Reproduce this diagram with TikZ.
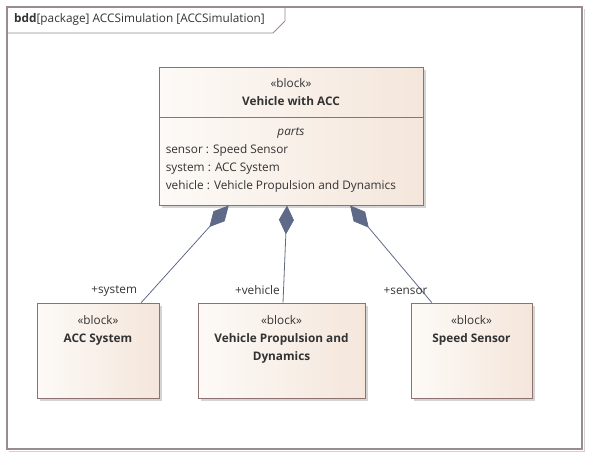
\documentclass[tikz,border=0pt]{standalone}
\usepackage{fontspec}
\setmainfont{Open Sans}
\usepackage{xcolor}
\usetikzlibrary{calc,positioning,arrows.meta,shadows}
\definecolor{blkFillL}{HTML}{FDFAF7}
\definecolor{blkFillR}{HTML}{F4E6DB}
\definecolor{blkLine}{HTML}{8E7272}
\definecolor{linkBlue}{HTML}{5F6A88}
\definecolor{txtGray}{HTML}{333333}
\definecolor{frameGray}{HTML}{9A8C8C}

\begin{document}
\begin{tikzpicture}[
  x=1pt, y=-1pt,
  font=\fontsize{11.8}{18}\selectfont, text=txtGray,
  blockbox/.style={draw=blkLine, line width=0.9pt, inner sep=0pt,
    left color=blkFillL, right color=blkFillR,
    drop shadow={shadow xshift=3pt, shadow yshift=-3pt, fill=black!17, opacity=1}},
  blocktext/.style={align=center, inner sep=0pt, anchor=north},
  rolelbl/.style={anchor=east, inner sep=0pt},
  comp/.style={draw=linkBlue, line width=0.8pt,
    arrows={Diamond[length=29pt,width=15pt,fill=linkBlue]-}}
]
\useasboundingbox (0,0) rectangle (590,456);

% Diagram frame with name tab
\draw[black!18, line width=1pt] (9,451) -- (584,451) -- (584,9);
\draw[frameGray, line width=1.2pt] (7,7) rectangle (582,449);
\draw[frameGray, line width=0.8pt] (7,33) -- (273,33) -- (285,21) -- (285,7);
\node[anchor=west, inner sep=0pt] (title) at (14,19)
  {\textbf{bdd}[package] ACCSimulation [ACCSimulation]};

% Owning block
\node[blockbox, minimum width=264pt, minimum height=138pt] (vacc) at (291,136) {};
\node[blocktext] (vacchead) at ($(vacc.north)+(0,12)$) {«block»\\\textbf{Vehicle with ACC}};
\draw[blkLine, line width=0.9pt] ($(vacc.north west)+(0,51)$) -- ($(vacc.north east)+(0,51)$);
\node[blocktext] (vaccparts) at ($(vacc.north)+(0,61)$) {\textit{parts}};
\node[anchor=north west, align=left, inner sep=0pt] (vaccprops) at ($(vacc.north west)+(7,77.5)$)
  {sensor : Speed Sensor\\system : ACC System\\vehicle : Vehicle Propulsion and Dynamics};

% Part blocks
\node[blockbox, minimum width=122pt, minimum height=95pt] (acc) at (98,350.5) {};
\node[blocktext] (acchead) at ($(acc.north)+(0,13)$) {«block»\\\textbf{ACC System}};
\node[blockbox, minimum width=167pt, minimum height=95pt] (vpd) at (281.5,350.5) {};
\node[blocktext] (vpdhead) at ($(vpd.north)+(0,13)$) {«block»\\\textbf{Vehicle Propulsion and}\\\textbf{Dynamics}};
\node[blockbox, minimum width=121pt, minimum height=95pt] (spd) at (471.5,350.5) {};
\node[blocktext] (spdhead) at ($(spd.north)+(0,13)$) {«block»\\\textbf{Speed Sensor}};

% Composition links
\draw[comp] ($(vacc.south west)!0.265!(vacc.south east)$) -- ($(acc.north west)!0.852!(acc.north east)$)
  coordinate[pos=1] (accend);
\draw[comp] ($(vacc.south west)!0.485!(vacc.south east)$) -- ($(vpd.north west)!0.509!(vpd.north east)$)
  coordinate[pos=1] (vpdend);
\draw[comp] ($(vacc.south west)!0.723!(vacc.south east)$) -- ($(spd.north west)!0.174!(spd.north east)$)
  coordinate[pos=1] (spdend);

% Role names
\node[rolelbl] (rsys) at ($(accend)+(-4,-12)$) {+system};
\node[rolelbl] (rveh) at ($(vpdend)+(-3,-12)$) {+vehicle};
\node[rolelbl] (rsen) at ($(spdend)+(-4,-12)$) {+sensor};
\end{tikzpicture}
\end{document}
